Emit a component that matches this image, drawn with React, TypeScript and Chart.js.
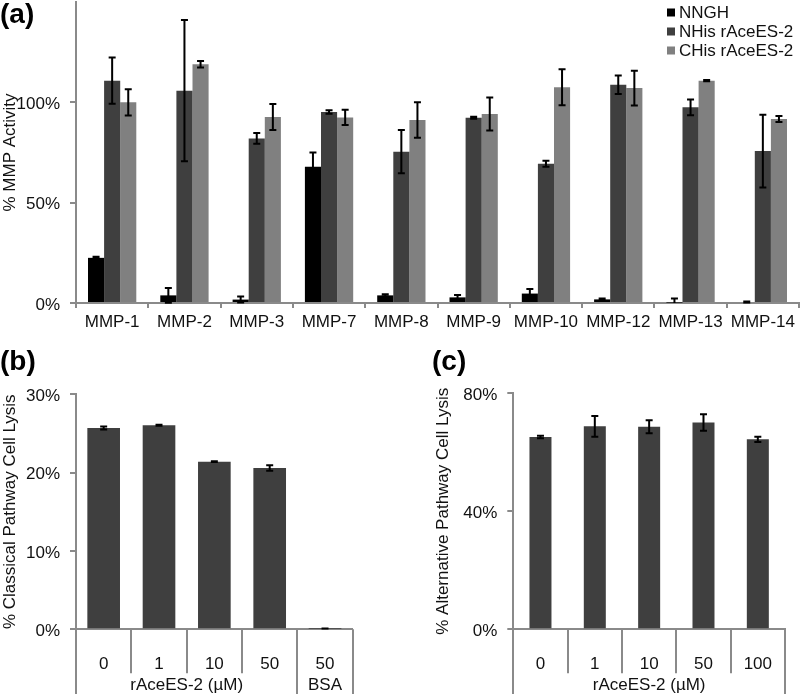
import React, { useEffect, useRef } from "react";
import { Chart, registerables } from "chart.js";

Chart.register(...registerables);

// ---------- data ----------
const mmpCategories = ["MMP-1", "MMP-2", "MMP-3", "MMP-7", "MMP-8", "MMP-9", "MMP-10", "MMP-12", "MMP-13", "MMP-14"];
const nnghValues = [22.5, 3.8, 1.7, 67.9, 3.8, 2.8, 4.7, 1.8, 0.2, 0.5];
const nnghErrors = [0.5, 3.7, 1.5, 7.1, 0.5, 1.2, 2.3, 0.5, 2.1, 0.3];
const nhisValues = [110.8, 105.8, 82.0, 95.2, 75.4, 92.3, 69.4, 108.8, 97.5, 75.7];
const nhisErrors = [11.5, 35.2, 2.7, 0.9, 10.8, 0.5, 1.5, 4.6, 3.9, 18.1];
const chisValues = [100.0, 119.0, 92.7, 92.5, 91.2, 94.2, 107.5, 107.1, 110.8, 91.7];
const chisErrors = [6.5, 1.6, 6.5, 3.8, 8.9, 8.2, 9.0, 8.7, 0.3, 1.5];
const seriesLabels = ["NNGH", "NHis rAceES-2", "CHis rAceES-2"];

const classicalCategories = ["0", "1", "10", "50", "50"];
const classicalValues = [25.7, 26.05, 21.4, 20.6, 0.05];
const classicalErrors = [0.2, 0.05, 0.05, 0.35, 0.05];
const classicalGroups = [
  { label: "rAceES-2 (µM)", start: 0, end: 3 },
  { label: "BSA", start: 4, end: 4 },
];

const alternativeCategories = ["0", "1", "10", "50", "100"];
const alternativeValues = [65.2, 68.8, 68.7, 70.1, 64.4];
const alternativeErrors = [0.4, 3.5, 2.2, 2.8, 0.9];
const alternativeGroups = [{ label: "rAceES-2 (µM)", start: 0, end: 4 }];

// ---------- styles ----------
const FONT = "'Liberation Sans', Arial, Helvetica, sans-serif";
const TEXT = "#111111";
const AXIS = "#8a8a8a";
const C_BLACK = "#000000";
const C_DARK = "#3f3f3f";
const C_LIGHT = "#808080";

const errorBarPlugin = {
  id: "errorBars",
  afterDatasetsDraw(chart: any) {
    const ctx = chart.ctx;
    const ys = chart.scales.y;
    ctx.save();
    ctx.strokeStyle = "#000";
    ctx.lineWidth = 2;
    chart.data.datasets.forEach((ds: any, i: number) => {
      const errs = ds.errors;
      if (!errs) return;
      const meta = chart.getDatasetMeta(i);
      meta.data.forEach((bar: any, j: number) => {
        const v = ds.data[j];
        const e = errs[j];
        const top = ys.getPixelForValue(v + e);
        const bot = ys.getPixelForValue(Math.max(0, v - e));
        const x = bar.x;
        const cap = 3.5;
        ctx.beginPath();
        ctx.moveTo(x, top);
        ctx.lineTo(x, bot);
        ctx.moveTo(x - cap, top);
        ctx.lineTo(x + cap, top);
        if (v - e > 0) {
          ctx.moveTo(x - cap, bot);
          ctx.lineTo(x + cap, bot);
        }
        ctx.stroke();
      });
    });
    ctx.restore();
  },
};

const legendPlugin = {
  id: "cornerLegend",
  afterDraw(chart: any, _args: any, opts: any) {
    const ctx = chart.ctx;
    ctx.save();
    ctx.font = `17px ${FONT}`;
    ctx.textBaseline = "middle";
    ctx.textAlign = "left";
    chart.data.datasets.forEach((ds: any, i: number) => {
      const y = opts.y + i * opts.step;
      ctx.fillStyle = ds.backgroundColor;
      ctx.fillRect(opts.x, y - 4, 8, 8);
      ctx.fillStyle = TEXT;
      ctx.fillText(ds.label, opts.x + 12, y + 1);
    });
    ctx.restore();
  },
};

const groupAxisPlugin = {
  id: "groupAxis",
  afterDraw(chart: any, _args: any, opts: any) {
    const ctx = chart.ctx;
    const xs = chart.scales.x;
    const top = chart.chartArea.bottom;
    const bottom = chart.height;
    const n = chart.data.labels.length;
    const groups = opts.groups || [];
    const edges = new Set<number>();
    groups.forEach((g: any) => {
      edges.add(g.start);
      edges.add(g.end + 1);
    });
    ctx.save();
    ctx.strokeStyle = AXIS;
    ctx.lineWidth = 2;
    for (let i = 0; i <= n; i++) {
      const px = Math.round(xs.getPixelForValue(i - 0.5));
      const yEnd = edges.has(i) ? bottom : top + opts.innerDepth;
      ctx.beginPath();
      ctx.moveTo(px, top);
      ctx.lineTo(px, yEnd);
      ctx.stroke();
    }
    ctx.font = `17px ${FONT}`;
    ctx.fillStyle = TEXT;
    ctx.textAlign = "center";
    ctx.textBaseline = "middle";
    groups.forEach((g: any) => {
      const cx = (xs.getPixelForValue(g.start - 0.5) + xs.getPixelForValue(g.end + 0.5)) / 2;
      ctx.fillText(g.label, cx, top + opts.labelOffset);
    });
    ctx.restore();
  },
};

function yAxis(max: number, step: number, title: string, width: number, titlePad: number, hideTop: boolean) {
  return {
    min: 0,
    max,
    afterFit: (scale: any) => {
      scale.width = width;
      scale.paddingTop = 0;
      scale.paddingBottom = 0;
    },
    border: { display: true, color: AXIS, width: 2 },
    grid: { display: true, drawOnChartArea: false, drawTicks: true, tickLength: 6, color: AXIS, lineWidth: 2 },
    ticks: {
      stepSize: step,
      padding: 10,
      labelOffset: 2,
      color: TEXT,
      font: { family: FONT, size: 17 },
      callback: (v: any) => (hideTop && v === max ? null : `${v}%`),
    },
    title: {
      display: true,
      text: title,
      color: TEXT,
      font: { family: FONT, size: 17 },
      padding: { top: titlePad, bottom: 0 },
    },
  };
}

function ChartMMP() {
  const ref = useRef<HTMLCanvasElement>(null);
  useEffect(() => {
    const chart = new Chart(ref.current!, {
      type: "bar",
      data: {
        labels: mmpCategories,
        datasets: [
          { label: seriesLabels[0], data: nnghValues, errors: nnghErrors, backgroundColor: C_BLACK } as any,
          { label: seriesLabels[1], data: nhisValues, errors: nhisErrors, backgroundColor: C_DARK } as any,
          { label: seriesLabels[2], data: chisValues, errors: chisErrors, backgroundColor: C_LIGHT } as any,
        ],
      },
      options: {
        responsive: false,
        animation: false,
        layout: { padding: { top: 2, right: 1, left: 0, bottom: 0 } },
        datasets: { bar: { categoryPercentage: 0.668, barPercentage: 1.0 } },
        scales: {
          x: {
            afterFit: (scale: any) => {
              scale.height = 42;
              scale.paddingLeft = 0;
              scale.paddingRight = 0;
            },
            border: { display: true, color: AXIS, width: 2 },
            grid: { display: true, offset: true, drawOnChartArea: false, drawTicks: true, tickLength: 5, color: AXIS, lineWidth: 2 },
            ticks: { padding: 4, color: TEXT, font: { family: FONT, size: 17 }, maxRotation: 0, autoSkip: false },
          },
          y: yAxis(150, 50, "% MMP Activity", 76, 0, true) as any,
        },
        plugins: {
          legend: { display: false },
          tooltip: { enabled: false },
          cornerLegend: { x: 667, y: 12.5, step: 19 },
        } as any,
      },
      plugins: [errorBarPlugin, legendPlugin],
    });
    return () => chart.destroy();
  }, []);
  return <canvas ref={ref} width={800} height={345} style={{ position: "absolute", left: 0, top: 0 }} />;
}

function SingleBarChart(props: {
  labels: string[];
  values: number[];
  errors: number[];
  groups: any[];
  max: number;
  step: number;
  title: string;
  yWidth: number;
  titlePad: number;
  padTop: number;
  padRight: number;
  barPct: number;
  left: number;
  top: number;
}) {
  const ref = useRef<HTMLCanvasElement>(null);
  useEffect(() => {
    const chart = new Chart(ref.current!, {
      type: "bar",
      data: {
        labels: props.labels,
        datasets: [{ label: props.title, data: props.values, errors: props.errors, backgroundColor: C_DARK } as any],
      },
      options: {
        responsive: false,
        animation: false,
        layout: { padding: { top: props.padTop, right: props.padRight, left: 0, bottom: 0 } },
        datasets: { bar: { categoryPercentage: 1.0, barPercentage: props.barPct } },
        scales: {
          x: {
            afterFit: (scale: any) => {
              scale.height = 64.7;
              scale.paddingLeft = 0;
              scale.paddingRight = 0;
            },
            border: { display: true, color: AXIS, width: 2 },
            grid: { display: false, offset: true },
            ticks: { padding: 17, color: TEXT, font: { family: FONT, size: 17 }, maxRotation: 0, autoSkip: false },
          },
          y: yAxis(props.max, props.step, props.title, props.yWidth, props.titlePad, false) as any,
        },
        plugins: {
          legend: { display: false },
          tooltip: { enabled: false },
          groupAxis: { groups: props.groups, innerDepth: 44, labelOffset: 56 },
        } as any,
      },
      plugins: [errorBarPlugin, groupAxisPlugin],
    });
    return () => chart.destroy();
  }, []);
  return (
    <canvas
      ref={ref}
      width={400}
      height={339}
      style={{ position: "absolute", left: props.left, top: props.top }}
    />
  );
}

const panelLabelStyle: React.CSSProperties = {
  position: "absolute",
  font: `bold 28px ${FONT}`,
  lineHeight: "28px",
  color: "#000",
  whiteSpace: "nowrap",
};

export default function App() {
  return (
    <div style={{ position: "absolute", left: 0, top: 0, width: 800, height: 694, background: "#fff", overflow: "hidden" }}>
      <ChartMMP />
      <SingleBarChart
        labels={classicalCategories}
        values={classicalValues}
        errors={classicalErrors}
        groups={classicalGroups}
        max={30}
        step={10}
        title="% Classical Pathway Cell Lysis"
        yWidth={76}
        titlePad={0}
        padTop={39.3}
        padRight={47.3}
        barPct={0.59}
        left={0}
        top={355}
      />
      <SingleBarChart
        labels={alternativeCategories}
        values={alternativeValues}
        errors={alternativeErrors}
        groups={alternativeGroups}
        max={80}
        step={40}
        title="% Alternative Pathway Cell Lysis"
        yWidth={113.3}
        titlePad={33}
        padTop={38.3}
        padRight={15}
        barPct={0.405}
        left={400}
        top={355}
      />
      <div style={{ ...panelLabelStyle, left: 0, top: 0 }}>(a)</div>
      <div style={{ ...panelLabelStyle, left: 0, top: 347 }}>(b)</div>
      <div style={{ ...panelLabelStyle, left: 432, top: 347 }}>(c)</div>
    </div>
  );
}
